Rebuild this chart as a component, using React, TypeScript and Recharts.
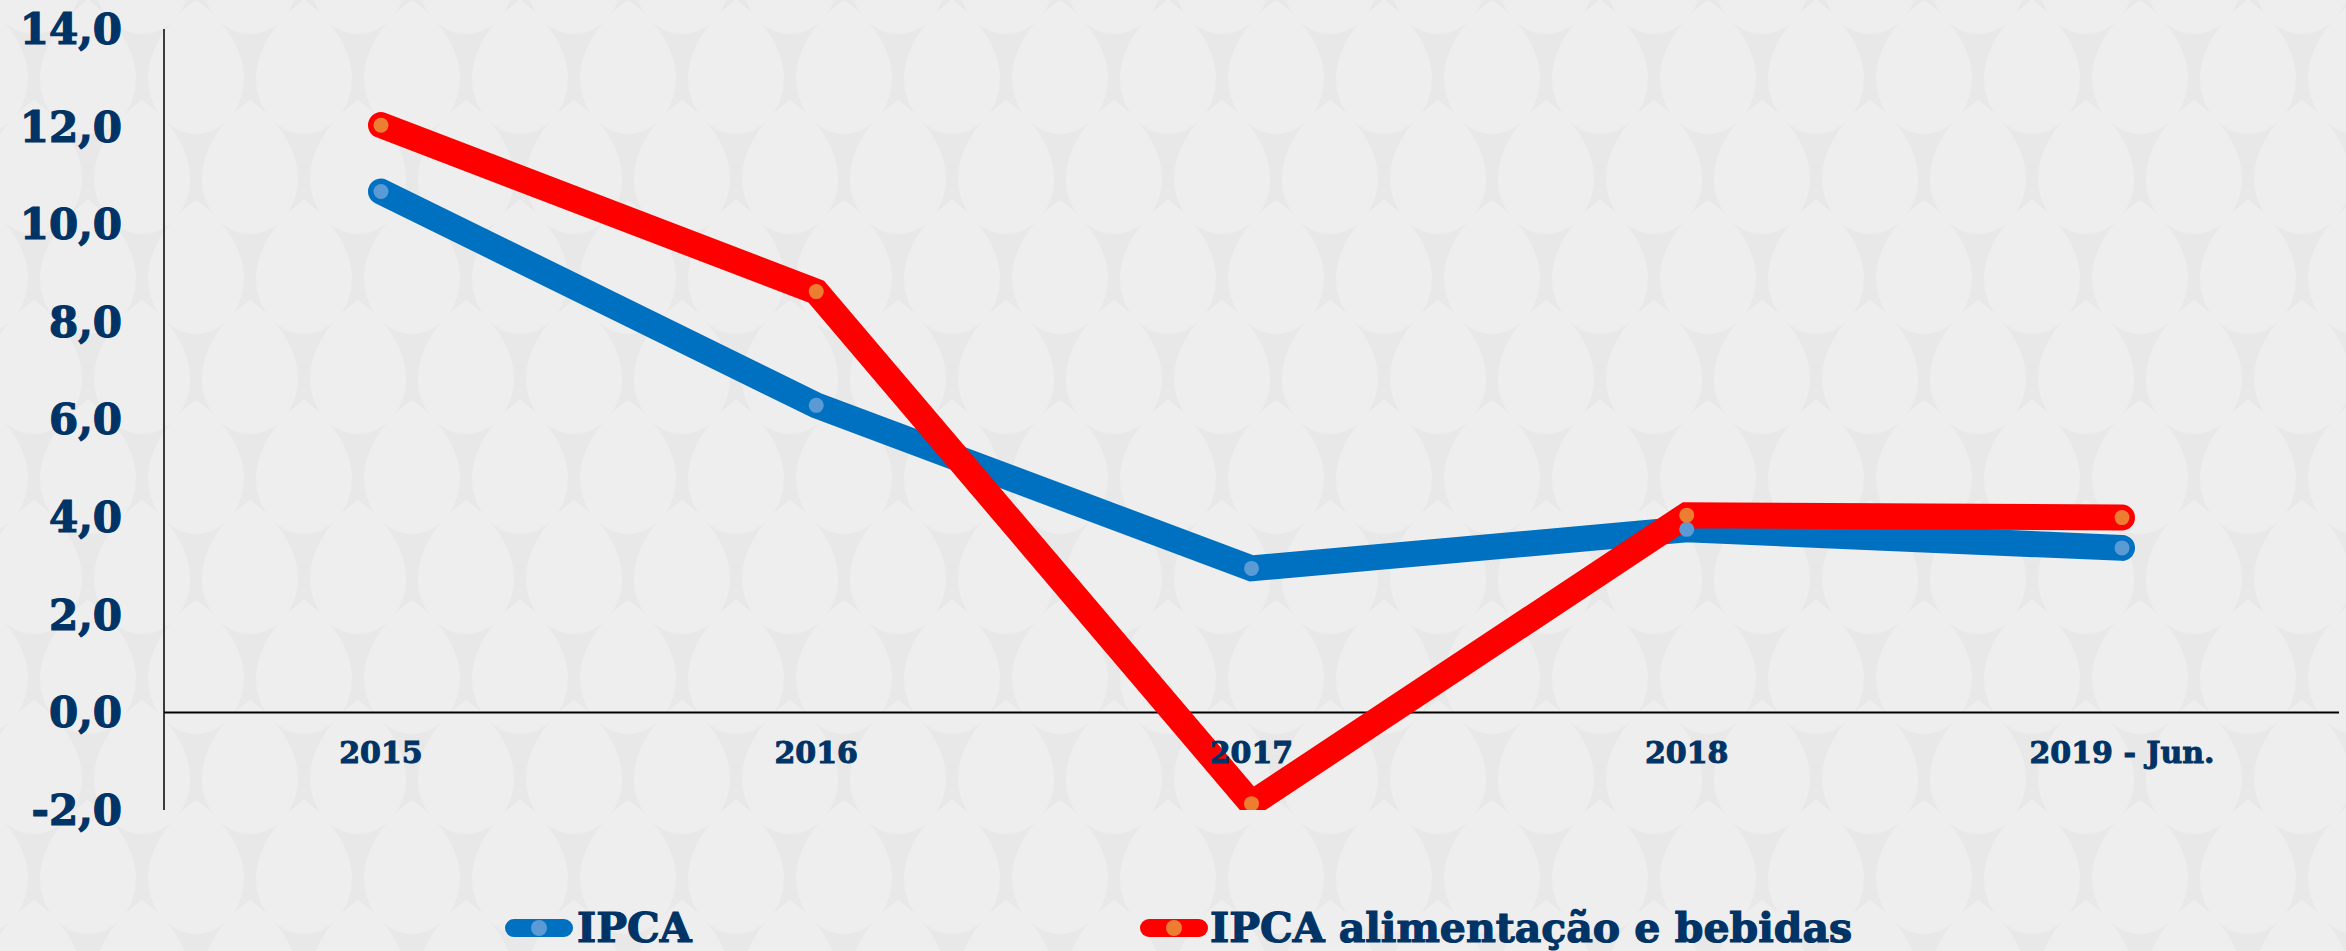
import { LineChart, Line, XAxis, YAxis, ReferenceLine } from "recharts";

const categories = ["2015", "2016", "2017", "2018", "2019 - Jun."];
const ipca = [10.67, 6.29, 2.95, 3.75, 3.37];
const ipcaAlimentos = [12.03, 8.62, -1.87, 4.04, 3.99];
const yTicks = [-2, 0, 2, 4, 6, 8, 10, 12, 14];

const series = [
    { key: "ipca", name: "IPCA", color: "#0070C0", dot: "#5B9BD5", values: ipca },
    { key: "alim", name: "IPCA alimentação e bebidas", color: "#FF0000", dot: "#ED7D31", values: ipcaAlimentos },
];

const data = categories.map((c, i) => ({ name: c, ipca: ipca[i], alim: ipcaAlimentos[i] }));

const FONT = "'DejaVu Serif', serif";
const NAVY = "#003366";

const fmt = (v: number) => v.toFixed(1).replace(".", ",");

// x labels sit just under the zero line, not at the bottom of the plot
const XTick = (props: any) => {
    const { x, y, payload } = props;
    return (
        <text
            x={x}
            y={y}
            dy={-55}
            textAnchor="middle"
            fill={NAVY}
            stroke={NAVY}
            strokeWidth={1}
            fontFamily={FONT}
            fontWeight="bold"
            fontSize={30}
        >
            {payload.value}
        </text>
    );
};

const leaf = (cx: number, cy: number) =>
    `M${cx},${cy - 70} C${cx + 26},${cy - 52} ${cx + 48},${cy - 22} ${cx + 48},${cy + 8} ` +
    `C${cx + 48},${cy + 42} ${cx + 24},${cy + 64} ${cx},${cy + 64} ` +
    `C${cx - 24},${cy + 64} ${cx - 48},${cy + 42} ${cx - 48},${cy + 8} ` +
    `C${cx - 48},${cy - 22} ${cx - 26},${cy - 52} ${cx},${cy - 70} Z`;

const leafSpots = [
    [0, 70],
    [108, 70],
    [54, 170],
    [54, -30],
    [0, 270],
    [108, 270],
];

const Background = () => (
    <svg width={2346} height={951} style={{ position: "absolute", left: 0, top: 0 }}>
        <defs>
            <pattern id="leaves" width={108} height={200} patternUnits="userSpaceOnUse" x={-20} y={0}>
                <rect width={108} height={200} fill="#E8E8E8" />
                {leafSpots.map(([cx, cy], i) => (
                    <path key={i} d={leaf(cx, cy)} fill="#EEEEEE" />
                ))}
            </pattern>
        </defs>
        <rect width={2346} height={951} fill="url(#leaves)" />
    </svg>
);

const legendPos = [
    { icon: 505, text: 577 },
    { icon: 1140, text: 1210 },
];

const App = () => {
    return (
        <div style={{ position: "absolute", left: 0, top: 0, width: 2346, height: 951, background: "#ECECEC", overflow: "hidden" }}>
            <Background />
            <div style={{ position: "absolute", left: 0, top: 0 }}>
                <LineChart width={2346} height={951} data={data} margin={{ top: 29, right: 7, bottom: 101, left: 0 }}>
                    <XAxis
                        dataKey="name"
                        height={40}
                        axisLine={false}
                        tickLine={false}
                        tick={<XTick />}
                        interval={0}
                        padding={{ left: 217, right: 217 }}
                    />
                    <YAxis
                        width={164}
                        domain={[-2, 14]}
                        ticks={yTicks}
                        allowDataOverflow
                        tickFormatter={fmt}
                        axisLine={{ stroke: "#000", strokeWidth: 1.5 }}
                        tickLine={false}
                        tickSize={0}
                        tickMargin={42}
                        tick={{ fill: NAVY, stroke: NAVY, strokeWidth: 1.2, fontFamily: FONT, fontWeight: "bold", fontSize: 42 }}
                    />
                    <ReferenceLine y={0} stroke="#000" strokeWidth={2} />
                    {series.map((s) => (
                        <Line
                            key={s.key}
                            dataKey={s.key}
                            name={s.name}
                            stroke={s.color}
                            strokeWidth={26}
                            strokeLinecap="round"
                            strokeLinejoin="miter"
                            dot={{ r: 7.5, fill: s.dot, stroke: "none", strokeWidth: 0 }}
                            activeDot={false}
                            isAnimationActive={false}
                        />
                    ))}
                </LineChart>
            </div>
            <svg width={2346} height={951} style={{ position: "absolute", left: 0, top: 0, pointerEvents: "none" }}>
                {series.map((s, i) => (
                    <g key={s.key}>
                        <rect x={legendPos[i].icon} y={919} width={68} height={18} rx={9} fill={s.color} />
                        <circle cx={legendPos[i].icon + 34} cy={928} r={8} fill={s.dot} />
                        <text
                            x={legendPos[i].text}
                            y={942}
                            fill={NAVY}
                            stroke={NAVY}
                            strokeWidth={1.2}
                            fontFamily={FONT}
                            fontWeight="bold"
                            fontSize={41}
                        >
                            {s.name}
                        </text>
                    </g>
                ))}
            </svg>
        </div>
    );
};

export default App;
